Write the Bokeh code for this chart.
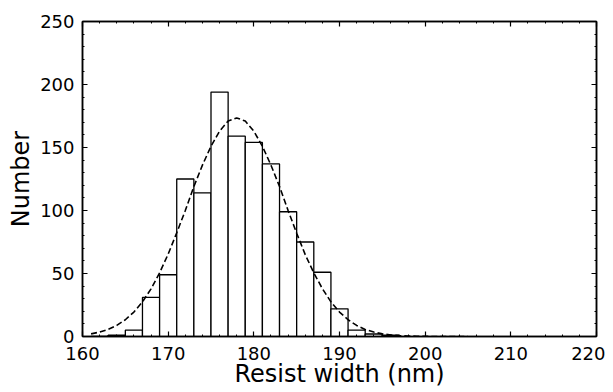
from bokeh.plotting import figure
from bokeh.models import LinearAxis, Range1d, SingleIntervalTicker, ColumnDataSource, CustomLabelingPolicy
from bokeh.embed import file_html
from bokeh.resources import INLINE

# Histogram data (2 nm bins, left edges)
bin_left = [161, 163, 165, 167, 169, 171, 173, 175, 177, 179, 181, 183, 185, 187, 189, 191, 193, 195]
counts = [0, 1, 5, 31, 49, 125, 114, 194, 159, 154, 137, 99, 75, 51, 22, 5, 2, 1]
bin_width = 2

# Dashed fit curve
fit_x = [161, 162, 163, 164, 165, 166, 167, 168, 169, 170, 171, 172, 173, 174, 175, 176, 177, 178,
         179, 180, 181, 182, 183, 184, 185, 186, 187, 188, 189, 190, 191, 192, 193, 194, 195, 196,
         197, 198, 199, 200, 201, 202, 203, 204, 205]
fit_y = [2.1, 3.5, 5.6, 8.8, 13.3, 19.4, 27.5, 37.8, 50.5, 65.4, 82.3, 100, 119, 136, 151, 163, 171, 173.5,
         171, 163, 151, 136, 119, 100, 82, 65, 50.5, 38, 27.5, 19.4, 13.3, 8.8, 5.6, 3.5, 2.1, 1.2,
         0.7, 0.4, 0.2, 0.1, 0, 0, 0, 0, 0]

x_range = (160, 220)
y_range = (0, 250)
x_label = "Resist width (nm)"
y_label = "Number"

FONT = "DejaVu Sans"

src = ColumnDataSource(dict(
    left=bin_left,
    right=[b + bin_width for b in bin_left],
    top=counts,
    bottom=[0] * len(counts),
))

p = figure(width=605, height=390, output_backend="svg", toolbar_location=None,
           x_range=Range1d(*x_range), y_range=Range1d(*y_range),
           min_border_left=82, min_border_right=9, min_border_top=21, min_border_bottom=40,
           background_fill_color="white", border_fill_color="white")

p.quad(left="left", right="right", top="top", bottom="bottom", source=src,
       fill_color="white", line_color="black", line_width=1.3)
p.line(fit_x, fit_y, line_color="black", line_width=1.6, line_dash="6 3")

p.xgrid.visible = False
p.ygrid.visible = False
p.outline_line_color = "black"
p.outline_line_width = 1.5

def style_axis(ax, show_labels=True):
    ax.axis_line_color = "black"
    ax.axis_line_width = 1.5
    ax.major_tick_in = 5
    ax.major_tick_out = 0
    ax.minor_tick_in = 2
    ax.minor_tick_out = 0
    ax.major_tick_line_color = "black"
    ax.minor_tick_line_color = "black"
    ax.major_tick_line_width = 1.2
    ax.minor_tick_line_width = 1
    if show_labels:
        ax.major_label_text_font = FONT
        ax.major_label_text_font_size = "18px"
        ax.major_label_text_color = "black"
        ax.axis_label_text_font = FONT
        ax.axis_label_text_font_size = "24px"
        ax.axis_label_text_font_style = "normal"
        ax.axis_label_text_color = "black"
    else:
        ax.major_label_text_font_size = "0px"
        ax.major_label_standoff = 0
        ax.major_label_policy = CustomLabelingPolicy(code="return new Set()")

p.xaxis.ticker = SingleIntervalTicker(interval=10, num_minor_ticks=5)
p.yaxis.ticker = SingleIntervalTicker(interval=50, num_minor_ticks=5)
style_axis(p.xaxis[0])
style_axis(p.yaxis[0])
p.xaxis.axis_label = x_label
p.yaxis.axis_label = y_label
p.xaxis.major_label_standoff = 10
p.xaxis.axis_label_standoff = -3
p.yaxis.major_label_standoff = 8
p.yaxis.axis_label_standoff = 2

top_ax = LinearAxis(ticker=SingleIntervalTicker(interval=10, num_minor_ticks=5))
right_ax = LinearAxis(ticker=SingleIntervalTicker(interval=50, num_minor_ticks=5))
style_axis(top_ax, show_labels=False)
style_axis(right_ax, show_labels=False)
p.add_layout(top_ax, "above")
p.add_layout(right_ax, "right")

open("out.html", "w").write(file_html(p, INLINE))
